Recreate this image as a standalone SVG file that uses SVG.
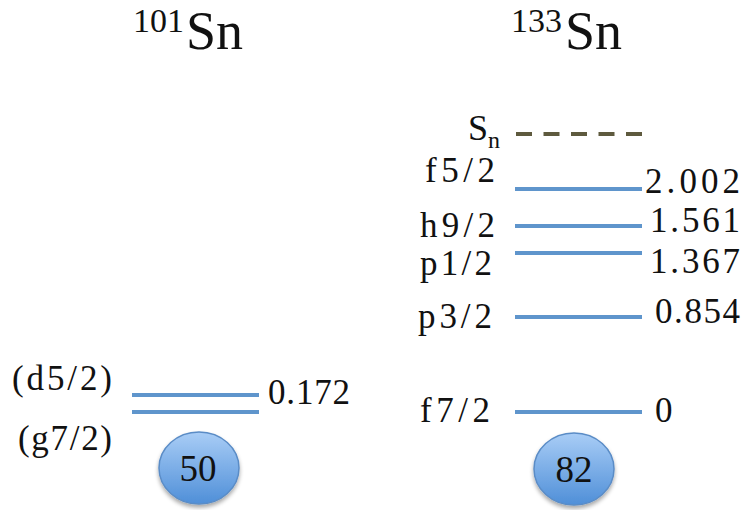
<svg xmlns="http://www.w3.org/2000/svg" width="744" height="510" viewBox="0 0 744 510">
<defs>
<style>
text{font-family:"Liberation Serif","Times New Roman",serif;fill:#111;}
.lab{font-size:35px;}
.val{font-size:35px;}
.ttl{font-size:54px;}
.sup{font-size:34px;}
.lvl{stroke:#5f95cc;stroke-width:4;fill:none;}
.sn{stroke:#5e5a3e;stroke-width:4;stroke-dasharray:16 11.5;fill:none;}
.core{fill:url(#g);stroke:#5a8cc6;stroke-width:1.5;}
.cnum{font-size:37px;text-anchor:middle;}
</style>
<linearGradient id="g" x1="0" y1="0" x2="0" y2="1">
<stop offset="0" stop-color="#a9cdf6"/>
<stop offset="1" stop-color="#4f8fd8"/>
</linearGradient>
<filter id="sh" x="-20%" y="-20%" width="140%" height="150%">
<feGaussianBlur in="SourceAlpha" stdDeviation="2"/>
<feOffset dy="3" result="b"/>
<feComponentTransfer><feFuncA type="linear" slope="0.35"/></feComponentTransfer>
<feMerge><feMergeNode/><feMergeNode in="SourceGraphic"/></feMerge>
</filter>
</defs>
<rect width="744" height="510" fill="#fff"/>

<g id="title101">
<text x="133" y="32" class="sup">101</text>
<text x="186" y="49" class="ttl">Sn</text>
</g>
<g id="title133">
<text x="511" y="32" class="sup">133</text>
<text x="565" y="49" class="ttl">Sn</text>
</g>

<g id="connectors">
<line class="lvl" x1="132" y1="395" x2="259" y2="395"/>
<line class="lvl" x1="132" y1="412" x2="259" y2="412"/>
<line class="sn" x1="516" y1="134" x2="642" y2="134"/>
<line class="lvl" x1="515" y1="189" x2="642" y2="189"/>
<line class="lvl" x1="515" y1="226" x2="642" y2="226"/>
<line class="lvl" x1="515" y1="253" x2="642" y2="253"/>
<line class="lvl" x1="515" y1="317" x2="642" y2="317"/>
<line class="lvl" x1="515" y1="412" x2="642" y2="412"/>
</g>

<g id="sn101">
<text x="12" y="390" class="lab" textLength="100" lengthAdjust="spacing">(d5/2)</text>
<text x="18" y="450" class="lab" textLength="94" lengthAdjust="spacing">(g7/2)</text>
<text x="268" y="404" class="val" textLength="82" lengthAdjust="spacing">0.172</text>
</g>

<g id="core50">
<ellipse class="core" cx="199" cy="468" rx="40" ry="36" filter="url(#sh)"/>
<text x="198" y="481" class="cnum">50</text>
</g>

<g id="levelSn">
<text x="468" y="140" style="font-size:36px">S<tspan dy="8" style="font-size:24px">n</tspan></text>
</g>
<g id="levelF52">
<text x="425" y="182" class="lab" textLength="70" lengthAdjust="spacing">f5/2</text>
<text x="645" y="193" class="val" textLength="95" lengthAdjust="spacing">2.002</text>
</g>
<g id="levelH92">
<text x="420" y="237" class="lab" textLength="75" lengthAdjust="spacing">h9/2</text>
<text x="650" y="232" class="val" textLength="90" lengthAdjust="spacing">1.561</text>
</g>
<g id="levelP12">
<text x="420" y="275" class="lab" textLength="72" lengthAdjust="spacing">p1/2</text>
<text x="650" y="273" class="val" textLength="90" lengthAdjust="spacing">1.367</text>
</g>
<g id="levelP32">
<text x="418" y="328" class="lab" textLength="74" lengthAdjust="spacing">p3/2</text>
<text x="655" y="323" class="val" textLength="85" lengthAdjust="spacing">0.854</text>
</g>
<g id="levelF72">
<text x="420" y="422" class="lab" textLength="70" lengthAdjust="spacing">f7/2</text>
<text x="655" y="422" class="val">0</text>
</g>

<g id="core82">
<ellipse class="core" cx="574" cy="469" rx="40" ry="36" filter="url(#sh)"/>
<text x="574" y="482" class="cnum">82</text>
</g>
</svg>
